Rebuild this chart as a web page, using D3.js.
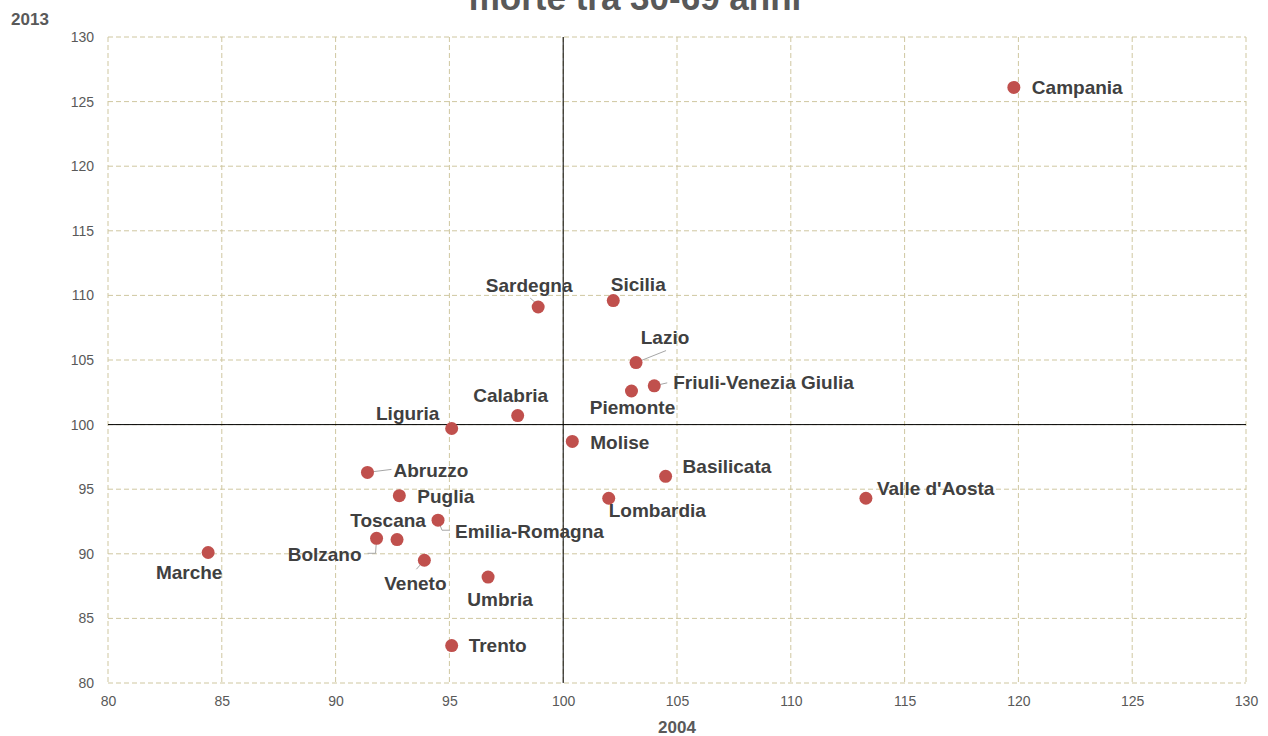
<!DOCTYPE html>
<html>
<head>
<meta charset="utf-8">
<script src="https://cdn.jsdelivr.net/npm/d3@7"></script>
<style>
  body { margin: 0; background: #fff; }
  svg { display: block; font-family: "Liberation Sans", Arial, sans-serif; }
</style>
</head>
<body>
<svg id="chart" width="1268" height="736"></svg>
<script>
// data
const regions = ["Campania", "Sardegna", "Sicilia", "Lazio", "Friuli-Venezia Giulia", "Piemonte",
  "Calabria", "Liguria", "Molise", "Basilicata", "Lombardia", "Valle d'Aosta", "Abruzzo",
  "Puglia", "Emilia-Romagna", "Toscana", "Bolzano", "Veneto", "Umbria", "Trento", "Marche"];
const val2004 = [119.8, 98.9, 102.2, 103.2, 104.0, 103.0, 98.0, 95.1, 100.4, 104.5, 102.0, 113.3,
  91.4, 92.8, 94.5, 92.7, 91.8, 93.9, 96.7, 95.1, 84.4];
const val2013 = [126.1, 109.1, 109.6, 104.8, 103.0, 102.6, 100.7, 99.7, 98.7, 96.0, 94.3, 94.3,
  96.3, 94.5, 92.6, 91.1, 91.2, 89.5, 88.2, 82.9, 90.1];
const xTicks = [80, 85, 90, 95, 100, 105, 110, 115, 120, 125, 130];
const yTicks = [80, 85, 90, 95, 100, 105, 110, 115, 120, 125, 130];

// label placement (offset from point, anchor, optional leader line)
const labelPos = {
  "Campania": [18, 0, "start"],
  "Sardegna": [-9, -22, "middle", [[0, -2], [-8, -9]]],
  "Sicilia": [25, -16, "middle"],
  "Lazio": [29, -25, "middle", [[0, 0], [30, -12]]],
  "Friuli-Venezia Giulia": [19, -3, "start", [[0, 0], [13, -3]]],
  "Piemonte": [1, 16, "middle"],
  "Calabria": [-7, -20, "middle"],
  "Liguria": [-44, -15, "middle"],
  "Molise": [18, 1, "start"],
  "Basilicata": [17, -10, "start"],
  "Lombardia": [0, 12, "start"],
  "Valle d'Aosta": [11, -10, "start"],
  "Abruzzo": [26, -2, "start", [[0, 0], [24, -3]]],
  "Puglia": [18, 1, "start"],
  "Emilia-Romagna": [17, 11, "start", [[0, 0], [4, 10], [12, 10]]],
  "Toscana": [-9, -19, "middle"],
  "Bolzano": [-15, 16, "end", [[0, 0], [-1, 15], [-9, 15]]],
  "Veneto": [-9, 23, "middle", [[0, 0], [-8, 9]]],
  "Umbria": [12, 22, "middle"],
  "Trento": [17, 0, "start"],
  "Marche": [-19, 20, "middle"]
};

const data = regions.map((r, i) => ({ name: r, x: val2004[i], y: val2013[i] }));

const svg = d3.select("#chart");
const margin = { left: 108, right: 22, top: 37, bottom: 53 };
const width = 1268 - margin.left - margin.right;
const height = 736 - margin.top - margin.bottom;

const x = d3.scaleLinear().domain([80, 130]).range([0, width]);
const y = d3.scaleLinear().domain([80, 130]).range([height, 0]);

const g = svg.append("g")
  .attr("transform", "translate(" + margin.left + "," + margin.top + ")");

// grid
const gridColor = "#cfc7a0";
g.selectAll(".vgrid").data(xTicks).enter().append("line")
  .attr("x1", d => x(d)).attr("x2", d => x(d))
  .attr("y1", 0).attr("y2", height)
  .attr("stroke", gridColor).attr("stroke-dasharray", "5,3");
g.selectAll(".hgrid").data(yTicks).enter().append("line")
  .attr("x1", 0).attr("x2", width)
  .attr("y1", d => y(d)).attr("y2", d => y(d))
  .attr("stroke", gridColor).attr("stroke-dasharray", "5,3");

// axes through 100
g.append("line")
  .attr("x1", x(100)).attr("x2", x(100)).attr("y1", 0).attr("y2", height)
  .attr("stroke", "#000").attr("stroke-width", 1);
g.append("line")
  .attr("x1", 0).attr("x2", width).attr("y1", y(100)).attr("y2", y(100))
  .attr("stroke", "#000").attr("stroke-width", 1);

// tick labels
const xAxis = g.append("g")
  .attr("transform", "translate(0," + height + ")")
  .call(d3.axisBottom(x).tickValues(xTicks).tickSize(0).tickPadding(13));
const yAxis = g.append("g")
  .call(d3.axisLeft(y).tickValues(yTicks).tickSize(0).tickPadding(14));
[xAxis, yAxis].forEach(a => {
  a.select(".domain").remove();
  a.selectAll("text")
    .attr("fill", "#595959")
    .style("font-size", "14px")
    .style("font-family", "'Liberation Sans', Arial, sans-serif");
});

// axis titles
svg.append("text")
  .attr("x", 677).attr("y", 733)
  .attr("text-anchor", "middle")
  .attr("fill", "#595959")
  .style("font-size", "17px").style("font-weight", "bold")
  .text("2004");
svg.append("text")
  .attr("x", 30).attr("y", 25)
  .attr("text-anchor", "middle")
  .attr("fill", "#595959")
  .style("font-size", "17px").style("font-weight", "bold")
  .text("2013");

// title (partly off the top edge, as in the original)
svg.append("text")
  .attr("x", 635).attr("y", 10)
  .attr("text-anchor", "middle")
  .attr("fill", "#595959")
  .style("font-size", "35px").style("font-weight", "bold")
  .text("morte tra 30-69 anni");

// leader lines
data.forEach(d => {
  const lp = labelPos[d.name];
  if (lp && lp[3]) {
    const px = x(d.x), py = y(d.y);
    g.append("polyline")
      .attr("points", lp[3].map(p => (px + p[0]) + "," + (py + p[1])).join(" "))
      .attr("fill", "none")
      .attr("stroke", "#a6a6a6")
      .attr("stroke-width", 1);
  }
});

// points
g.selectAll(".pt").data(data).enter().append("circle")
  .attr("cx", d => x(d.x))
  .attr("cy", d => y(d.y))
  .attr("r", 6.5)
  .attr("fill", "#c0504d");

// labels
g.selectAll(".lbl").data(data).enter().append("text")
  .attr("x", d => x(d.x) + labelPos[d.name][0])
  .attr("y", d => y(d.y) + labelPos[d.name][1])
  .attr("dy", "0.35em")
  .attr("text-anchor", d => labelPos[d.name][2])
  .attr("fill", "#404040")
  .style("font-size", "19px").style("font-weight", "bold")
  .text(d => d.name);
</script>
</body>
</html>
